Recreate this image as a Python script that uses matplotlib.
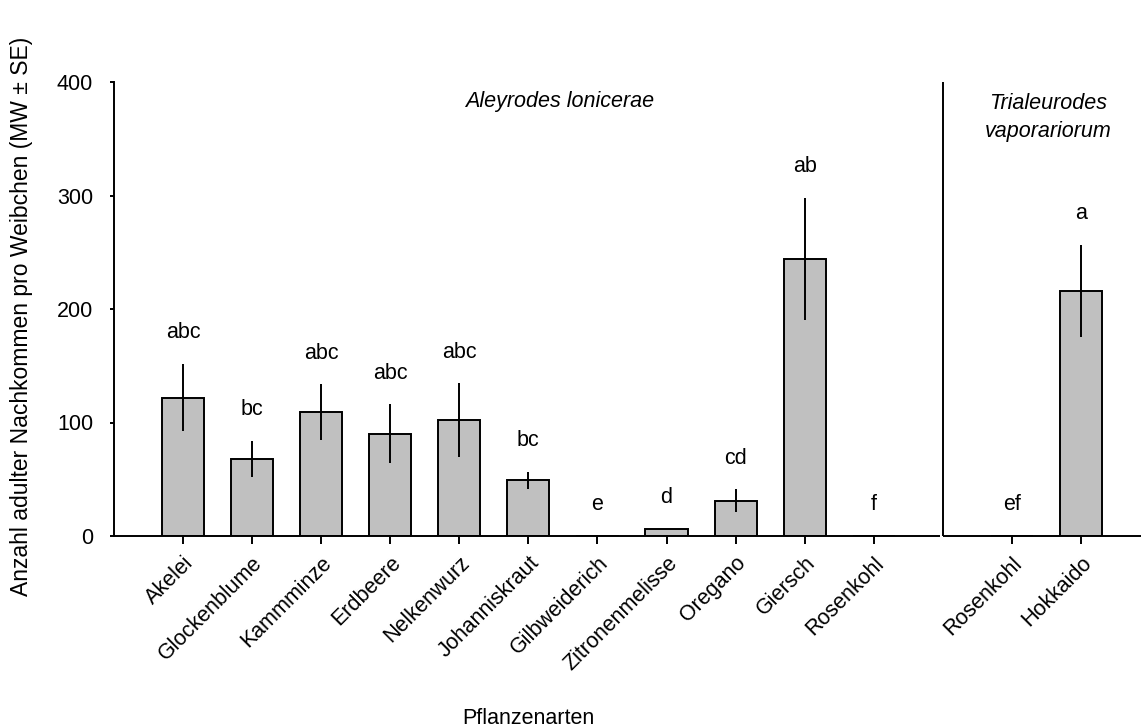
import matplotlib
matplotlib.use("Agg")
import matplotlib.pyplot as plt
import matplotlib.transforms as mtransforms
import numpy as np

plt.rcParams['font.family'] = ['Liberation Sans', 'DejaVu Sans']

# ---- data ----
plants = ["Akelei", "Glockenblume", "Kammminze", "Erdbeere", "Nelkenwurz",
          "Johanniskraut", "Gilbweiderich", "Zitronenmelisse", "Oregano",
          "Giersch", "Rosenkohl", "Rosenkohl", "Hokkaido"]
means = [122, 68, 109, 90, 102, 49, 0, 6.5, 31, 244, 0, 0, 216]
ses = [29.5, 16, 24.5, 26, 32.5, 7.5, 0, 0, 10, 54, 0, 0, 40.5]
letters = ["abc", "bc", "abc", "abc", "abc", "bc", "e", "d", "cd", "ab", "f", "ef", "a"]
group = ["A", "A", "A", "A", "A", "A", "A", "A", "A", "A", "A", "T", "T"]
species_A = "Aleyrodes lonicerae"
species_T = "Trialeurodes\nvaporariorum"
yticks = [0, 100, 200, 300, 400]

FS = 15.5

# positions: group A at 1..11, group T at 13, 14 (divider at 12)
xpos = []
ia = 0
it = 0
for g in group:
    if g == "A":
        ia += 1
        xpos.append(ia)
    else:
        it += 1
        xpos.append(12 + it)
xpos = np.array(xpos, dtype=float)

W, H = 1141, 727
fig = plt.figure(figsize=(W / 100, H / 100), dpi=100)
ax_left = 114 / W
ax_bottom = (H - 536) / H
ax_top = (H - 82) / H
ax = fig.add_axes([ax_left, ax_bottom, 1 - ax_left, ax_top - ax_bottom])

lw = 1.4
ax.bar(xpos, means, width=0.61, color="#c0c0c0", edgecolor="black", linewidth=lw, zorder=2)
ax.errorbar(xpos, means, yerr=ses, fmt="none", ecolor="black", elinewidth=lw, capsize=0, zorder=3)

xmax = 14.87
ax.set_xlim(0, xmax)
ax.set_ylim(0, 400)
ax.set_yticks(yticks)
ax.set_yticklabels([str(v) for v in yticks], fontsize=FS)

for s in ["top", "right", "bottom"]:
    ax.spines[s].set_visible(False)
ax.spines["left"].set_linewidth(lw)

# split x axis line + divider
ax.plot([0, 11.96], [0, 0], color="black", lw=lw, clip_on=False, zorder=4, solid_capstyle="butt")
ax.plot([12.0, xmax], [0, 0], color="black", lw=lw, clip_on=False, zorder=4, solid_capstyle="butt")
ax.plot([12.0, 12.0], [0, 400], color="black", lw=lw, clip_on=False, zorder=4, solid_capstyle="butt")

ax.tick_params(axis="y", direction="out", length=3, width=lw, pad=12)
ax.tick_params(axis="x", direction="out", length=6, width=lw, pad=6)
ax.set_xticks(xpos)
ax.set_xticklabels(plants, fontsize=FS, rotation=45, ha="right", va="top",
                   rotation_mode="anchor")

# significance letters
for x, m, s, l in zip(xpos, means, ses, letters):
    ax.annotate(l, xy=(x, m + s), xytext=(0, 18.5), textcoords="offset points",
                ha="center", va="baseline", fontsize=FS)

# species titles
ax.text(6.45, 382.6, species_A, ha="center", va="center", fontsize=FS, style="italic")
ax.text(13.52, 368.6, species_T, ha="center", va="center", fontsize=FS, style="italic",
        linespacing=1.45)

# axis labels
trans = mtransforms.blended_transform_factory(ax.transData, fig.transFigure)
ax.text(6.0, (H - 718) / H, "Pflanzenarten", transform=trans, ha="center", va="center",
        fontsize=FS)
fig.text(22 / W, (H - 316) / H, "Anzahl adulter Nachkommen pro Weibchen (MW ± SE)",
         rotation=90, ha="center", va="center", fontsize=16.5)

fig.savefig("out.png", dpi=100)
